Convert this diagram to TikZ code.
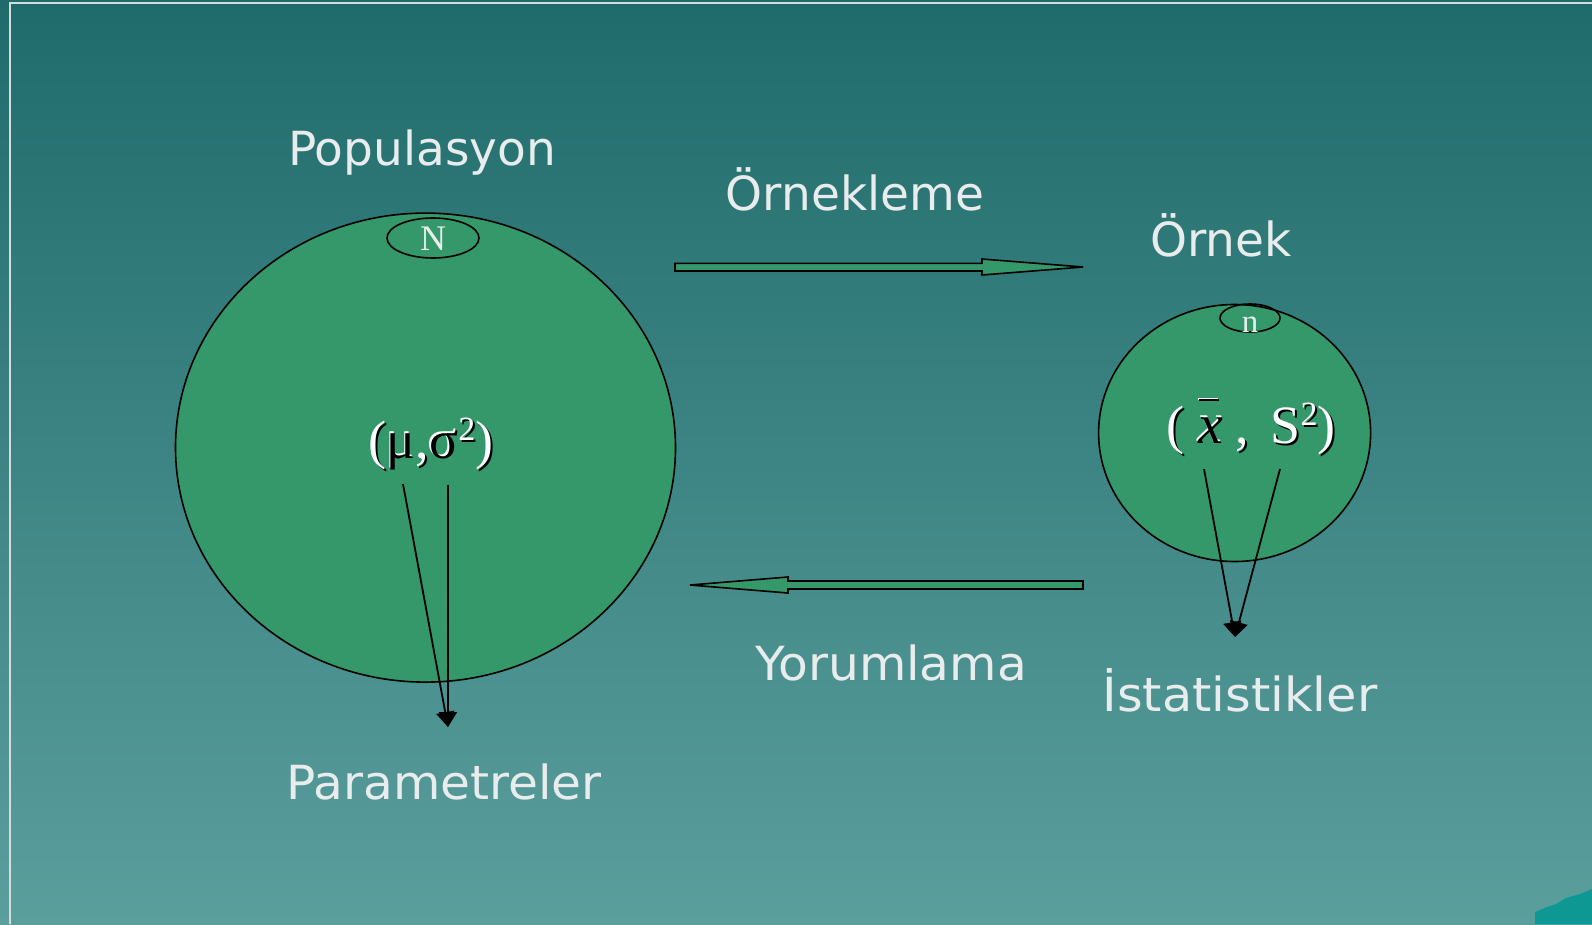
\documentclass[tikz,border=0pt]{standalone}
\usepackage{fontspec}
\setmainfont{Liberation Serif}
\newfontfamily\labelfont{DejaVu Sans}
\newfontfamily\labelfontwide[FakeStretch=1.05]{DejaVu Sans}
\newfontfamily\labelfontmid[FakeStretch=1.035]{DejaVu Sans}
\usetikzlibrary{arrows.meta,shapes.geometric}
\definecolor{bgtop}{HTML}{1F6B6B}
\definecolor{bgbot}{HTML}{5B9F9D}
\definecolor{blobgreen}{HTML}{35986A}
\definecolor{txt}{HTML}{E8ECEC}
\definecolor{corner}{HTML}{0E9894}
\definecolor{framec}{HTML}{D6DCDC}
% white glyph with black drop shadow
\newcommand\shw[1]{\makebox[0pt][l]{\hspace{2pt}\raisebox{-2pt}{\textcolor{black}{#1}}}\textcolor{white}{#1}}
% black glyph with white highlight
\newcommand\shk[1]{\makebox[0pt][l]{\hspace{-1.3pt}\raisebox{1.3pt}{\textcolor{white}{#1}}}\textcolor{black}{#1}}
\newcommand\supii{\raisebox{18pt}{\fontsize{34}{34}\selectfont 2}}
\newcommand\xbar{\makebox[0pt][l]{\hspace{1pt}\rule[42pt]{20pt}{2pt}}{\fontsize{56}{60}\selectfont\itshape x}}
\begin{document}
\begin{tikzpicture}[x=1pt,y=-1pt,
  lbl/.style={text=txt, font=\labelfont\fontsize{47}{56}\selectfont, anchor=base, inner sep=0pt},
  circ/.style={draw=black, line width=1.6pt, fill=blobgreen, ellipse, inner sep=0pt},
  small/.style={draw=black, line width=1.6pt, ellipse, inner sep=0pt},
  letter/.style={text=txt, anchor=base, inner sep=0pt},
  thinarrow/.style={-{Triangle[length=15pt,width=18pt]}, line width=1.8pt, draw=black},
  blockarrow/.style={draw=black, line width=1.6pt, fill=blobgreen},
  mathtxt/.style={font=\fontsize{54}{60}\selectfont, anchor=base, inner sep=0pt},
]
\useasboundingbox (0,0) rectangle (1592,924);
% background
\fill[top color=bgtop, bottom color=bgbot] (0,0) rectangle (1592,924);
\draw[framec, line width=2pt] (10,924) -- (10,2.5) -- (1592,2.5);
\fill[corner] (1535,924) -- (1535,912) -- (1547,907) -- (1556,904) -- (1566,898) -- (1580,894) -- (1592,889) -- (1592,924) -- cycle;

% population circle
\node[circ, minimum width=500pt, minimum height=469pt] (pop) at (425.5,447.6) {};
\node[small, minimum width=92pt, minimum height=40pt] (Nell) at (433,238) {};
\node[letter, font=\fontsize{36}{40}\selectfont] (Nl) at (433,250) {N};

% sample circle
\node[circ, minimum width=272pt, minimum height=257pt] (samp) at (1234.6,433) {};
\node[small, minimum width=60pt, minimum height=28pt] (nell) at (1250,318) {};
\node[letter, font=\fontsize{33}{40}\selectfont] (nl) at (1250,332) {n};

% labels
\node[lbl] (popl) at (422,165) {Populasyon};
\node[lbl] (ornl) at (855,210) {Örnekleme};
\node[lbl] (ornek) at (1221,256) {Örnek};
\node[lbl, font=\labelfontmid\fontsize{47}{56}\selectfont] (yor) at (891,680) {Yorumlama};
\node[lbl, font=\labelfontwide\fontsize{47}{56}\selectfont] (ist) at (1240,711) {İstatistikler};
\node[lbl, font=\labelfontmid\fontsize{47}{56}\selectfont] (par) at (444,799) {Parametreler};

% parameter text
\node[mathtxt] (mu) at (431,458) {\shw{(}\shk{μ}\shw{,}\shk{σ}\shw{\supii}\shw{)}};

% statistic text
\node[mathtxt] (xs) at (1251,443) {\shw{(}\hspace{14pt}\shk{\xbar}\hspace{12pt}\shw{,}\hspace{22pt}\shw{S}\shw{\supii}\shw{)}};

% block arrows
\draw[blockarrow] (675,263.3) -- (982,263.3) -- (982,259) -- (1083,267) -- (982,275) -- (982,271) -- (675,271) -- cycle;
\draw[blockarrow] (1083,581) -- (788,581) -- (788,577) -- (690,585) -- (788,593) -- (788,589) -- (1083,589) -- cycle;

% thin arrows
\coordinate (muA) at (403,484);
\coordinate (muB) at (448,485);
\coordinate (parT) at (448,727);
\coordinate (xsA) at (1204,469);
\coordinate (xsB) at (1280,469);
\coordinate (istT) at (1235,637);
\draw[thinarrow] (muA) -- (parT);
\draw[thinarrow] (muB) -- (parT);
\draw[thinarrow] (xsA) -- (istT);
\draw[thinarrow] (xsB) -- (istT);
\end{tikzpicture}
\end{document}
